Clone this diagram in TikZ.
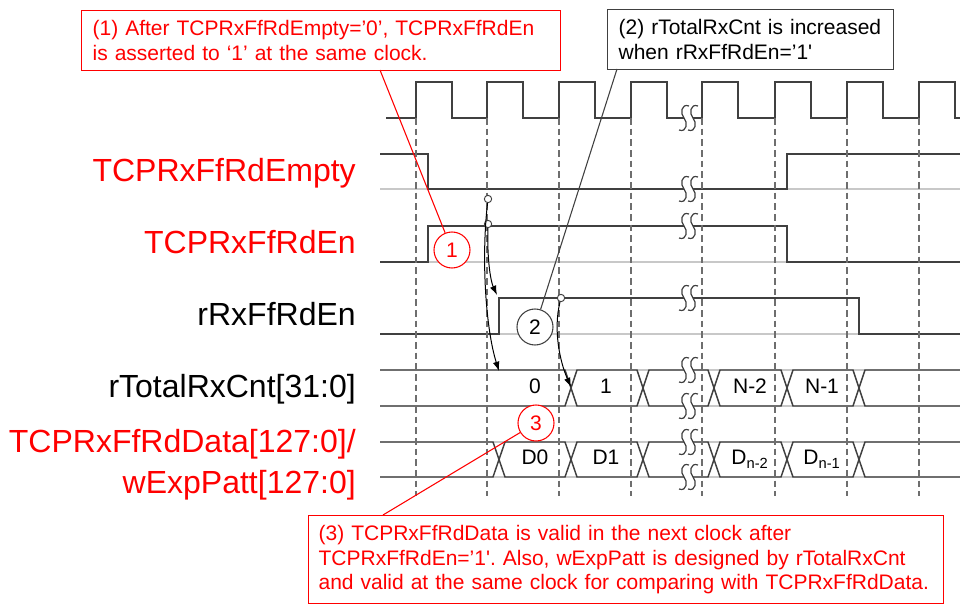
\documentclass[tikz,border=0pt]{standalone}
\usepackage{fontspec}
\setmainfont{Liberation Sans}
\usepackage{tikz}
\usetikzlibrary{arrows.meta, positioning, calc}
\definecolor{wavegray}{RGB}{64,64,64}
\definecolor{basegray}{RGB}{200,200,200}
\definecolor{gridgray}{RGB}{110,110,110}
\definecolor{notered}{RGB}{255,0,0}
\frenchspacing
\tikzset{brkmark/.pic={
    \fill[white] (-5,12) .. controls (3,15) and (4,4) .. (0,0)
        .. controls (-4,-4) and (-3,-15) .. (5,-12) -- (14,-12)
        .. controls (6,-15) and (5,-4) .. (9,0)
        .. controls (13,4) and (12,15) .. (4,12) -- cycle;
    \draw[wavegray, line width=0.9pt] (-5,12) .. controls (3,15) and (4,4) .. (0,0)
        .. controls (-4,-4) and (-3,-15) .. (5,-12);
    \draw[wavegray, line width=0.9pt] (4,12) .. controls (12,15) and (13,4) .. (9,0)
        .. controls (5,-4) and (6,-15) .. (14,-12);
}}

\begin{document}
\begin{tikzpicture}[x=0.75pt, y=-0.75pt,
    wave/.style={wavegray, line width=1.1pt},
    base/.style={basegray, line width=1.1pt},
    clkgrid/.style={gridgray, line width=0.9pt, dash pattern=on 5pt off 3pt},
    sig/.style={font=\fontsize{24}{28}\selectfont, anchor=base east, inner sep=0pt},
    note/.style={draw, line width=0.9pt, align=left, anchor=north west,
        font=\fontsize{15.75}{18.2}\selectfont, inner ysep=0pt},
    val/.style={font=\fontsize{15.75}{18}\selectfont, anchor=base},
    num/.style={circle, draw, fill=white, line width=0.8pt, minimum size=27pt,
        inner sep=0pt, font=\fontsize{15.75}{18}\selectfont},
    dot/.style={circle, draw=wavegray, fill=white, line width=0.7pt,
        minimum size=5.5pt, inner sep=0pt},
    follow/.style={-{Latex[length=7pt,width=5pt]}, line width=0.75pt, black},
    pointer/.style={line width=0.8pt}]
    \fill[white] (0,0) rectangle (960,607);
    \useasboundingbox (0,0) rectangle (960,607);

    \node[sig, notered] (lEmpty) at (356,181) {TCPRxFfRdEmpty};
    \node[sig, notered] (lEn) at (356,253) {TCPRxFfRdEn};
    \node[sig] (lRxEn) at (356,325) {rRxFfRdEn};
    \node[sig] (lCnt) at (356,397) {rTotalRxCnt[31:0]};
    \node[sig, notered] (lData) at (356,452) {TCPRxFfRdData[127:0]/};
    \node[sig, notered] (lPatt) at (356,493) {wExpPatt[127:0]};

    \foreach \yy in {189,262,334,370,406,442,477}
        \draw[base] (380,\yy) -- (960,\yy);

    \draw[wave] (386,118) foreach \r in {416,487,559,631,702,775,847,919}
        { -- (\r,118) -- (\r,82) -- ({\r+36},82) -- ({\r+36},118) } -- (960,118);
    \draw[wave] (380,154) -- (428,154) -- (428,189) -- (787,189) -- (787,154) -- (960,154);
    \draw[wave] (380,262) -- (428,262) -- (428,226) -- (787,226) -- (787,262) -- (960,262);
    \draw[wave] (380,334) -- (499,334) -- (499,298) -- (859,298) -- (859,334) -- (960,334);

    \draw[wave] (380,370) -- (565,370) -- (577,406) -- (637,406) -- (649,370) -- (708,370)
        -- (720,406) -- (781,406) -- (793,370) -- (853,370) -- (865,406) -- (960,406);
    \draw[wave] (380,406) -- (565,406) -- (577,370) -- (637,370) -- (649,406) -- (708,406)
        -- (720,370) -- (781,370) -- (793,406) -- (853,406) -- (865,370) -- (960,370);
    \draw[wave] (380,442) -- (493,442) -- (505,477) -- (565,477) -- (577,442) -- (637,442)
        -- (649,477) -- (708,477) -- (720,442) -- (781,442) -- (793,477) -- (853,477)
        -- (865,442) -- (960,442);
    \draw[wave] (380,477) -- (493,477) -- (505,442) -- (565,442) -- (577,477) -- (637,477)
        -- (649,442) -- (708,442) -- (720,477) -- (781,477) -- (793,442) -- (853,442)
        -- (865,477) -- (960,477);

    \foreach \r in {416,487,559,631,702,775,847,919}
        \draw[clkgrid] (\r,118) -- (\r,496);

    \foreach \yy in {118,189,226,298,370,406,442,477}
        \pic at (684,\yy) {brkmark};

    \node[val] (v0) at (535,393) {0};
    \node[val] (v1) at (606,393) {1};
    \node[val] (vn2) at (750,393) {N-2};
    \node[val] (vn1) at (822,393) {N-1};
    \node[val] (dd0) at (535,464.5) {D0};
    \node[val] (dd1) at (606,464.5) {D1};
    \node[val] (ddn2) at (750,464.5) {D\textsubscript{n-2}};
    \node[val] (ddn1) at (822,464.5) {D\textsubscript{n-1}};

    \node[dot] (d1) at (488,199) {};
    \node[dot] (d2) at (488,224) {};
    \node[dot] (d3) at (561,298) {};
    \coordinate (t1) at (499,371);
    \coordinate (t2) at (497,295);
    \coordinate (t3) at (571,387);
    \draw[follow] (d1) .. controls (481,260) and (486,330) .. (t1);
    \draw[follow] (d2) .. controls (487,262) and (491,282) .. (t2);
    \draw[follow] (d3) .. controls (553,330) and (560,362) .. (t3);

    \node[note, notered, text width=342.75pt, inner xsep=8.25pt, minimum height=45pt]
        (c1) at (81,10) {(1) After TCPRxFfRdEmpty=’0’, TCPRxFfRdEn\\is asserted to ‘1’ at the same clock.};
    \node[note, draw=wavegray, text width=198pt, inner xsep=8.25pt, minimum height=45pt]
        (c2) at (607,9) {(2) rTotalRxCnt is increased\\when rRxFfRdEn=’1\textquotesingle};
    \node[note, notered, text width=461.25pt, inner xsep=7.5pt, minimum height=66pt]
        (c3) at (308,515) {(3) TCPRxFfRdData is valid in the next clock after\\TCPRxFfRdEn=’1\textquotesingle. Also, wExpPatt is designed by rTotalRxCnt\\and valid at the same clock for comparing with TCPRxFfRdData.};

    \node[num, draw=notered, text=notered] (n1) at (452,250) {1};
    \node[num, draw=wavegray] (n2) at (535,327) {2};
    \node[num, draw=notered, text=notered] (n3) at (536,423) {3};

    \coordinate (p1) at (380,70);
    \coordinate (p2) at (617,69);
    \coordinate (p3) at (383,515);
    \draw[pointer, notered] (p1) -- (n1);
    \draw[pointer, wavegray] (p2) -- (n2);
    \draw[pointer, notered] (p3) -- (n3);
\end{tikzpicture}
\end{document}
